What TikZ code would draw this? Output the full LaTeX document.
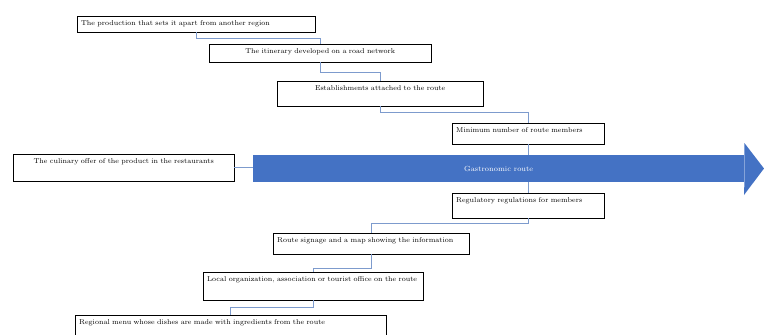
\documentclass[tikz,border=0pt]{standalone}
\usetikzlibrary{calc,positioning}

\definecolor{routeblue}{RGB}{68,114,196}
\definecolor{linkblue}{RGB}{125,155,205}

\begin{document}
\begin{tikzpicture}[
			x=1pt, y=-1pt,
			box/.style={draw=black, thin, fill=white, anchor=north west,
				font={\fontsize{7.1}{9}\selectfont}, inner xsep=4pt, inner ysep=2pt,
				text height=7.5pt},
			link/.style={draw=linkblue, line width=0.8pt},
			elbow/.style={to path={
			|- ($(\tikztostart)!#1!(\tikztotarget)$) -| (\tikztotarget)}},
			elbow/.default=0.5
	]
	\clip (0,0) rectangle (764,335);

	% boxes above the route
	\node[box, text width=230pt, text depth=4.5pt, align=left] (prod) at (77,16)
		{The production that sets it apart from another region};
	\node[box, text width=214pt, text depth=6.5pt, align=center] (itin) at (209,44)
		{The itinerary developed on a road network};
	\node[box, text width=198pt, text depth=13.5pt, align=center] (estab) at (277,81)
		{Establishments attached to the route};
	\node[box, text width=144pt, text depth=9.5pt, align=left] (mini) at (452,123)
		{Minimum number of route members};

	% the route itself
	\node[fill=routeblue, minimum width=491pt, minimum height=27pt, inner sep=0pt,
		anchor=north west, text=white, font={\fontsize{7.4}{9}\selectfont}] (route) at (253,155)
		{Gastronomic route};
	\fill[routeblue] (route.north east) -- ++(0,-12) -- (764,168.5) -- (744,195)
		-- (route.south east) -- cycle;

	\node[box, text width=213pt, text depth=15.5pt, align=center] (culi) at (13,154)
		{The culinary offer of the product in the restaurants};

	% boxes below the route
	\node[box, text width=144pt, text depth=13.5pt, align=left] (regl) at (452,193)
		{Regulatory regulations for members};
	\node[box, text width=188pt, text depth=9.5pt, align=left] (sign) at (273,233)
		{Route signage and a map showing the information};
	\node[box, text width=212pt, text depth=16.5pt, align=left] (locl) at (203,272)
		{Local organization, association or tourist office on the route};
	\node[box, text width=303pt, text depth=25pt, align=left] (menu) at (75,315)
		{Regional menu whose dishes are made with ingredients from the route};

	% connectors
	\path[link] (prod.south) to[elbow] (itin.north);
	\path[link] (itin.south) to[elbow=0.53] (estab.north);
	\path[link] (estab.south) to[elbow=0.35] (mini.north);
	\path[link] (mini.south) -- (mini.south |- route.north);
	\path[link] (culi.east) -- (culi.east -| route.west);
	\path[link] (regl.north |- route.south) -- (regl.north);
	\path[link] (regl.south) to[elbow=0.37] (sign.north);
	\path[link] (sign.south) to[elbow=0.78] (locl.north);
	\path[link] (locl.south) to[elbow] (menu.north);
\end{tikzpicture}
\end{document}
